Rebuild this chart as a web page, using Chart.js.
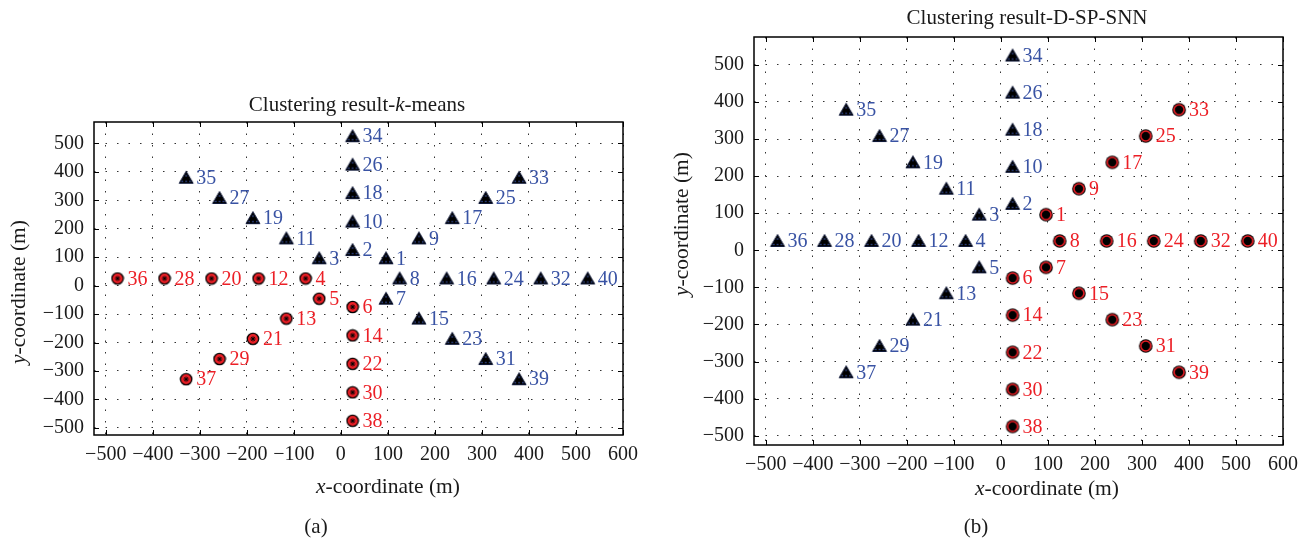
<!DOCTYPE html>
<html>
<head>
<meta charset="utf-8">
<title>Clustering results</title>
<script src="https://cdn.jsdelivr.net/npm/chart.js@4.4.1/dist/chart.umd.min.js"></script>
<style>
  html, body { margin: 0; padding: 0; background: #fff; }
  #wrap { position: relative; width: 1310px; height: 540px; }
  .panel { position: absolute; top: 0; width: 655px; height: 540px; }
  #panelA { left: 0; }
  #panelB { left: 655px; }
</style>
</head>
<body>
<div id="wrap">
  <div class="panel" id="panelA"><canvas id="chartA"></canvas></div>
  <div class="panel" id="panelB"><canvas id="chartB"></canvas></div>
</div>
<script>
// node positions (m), eight rays of five nodes around the base station
const nodeIds = [1, 2, 3, 4, 5, 6, 7, 8, 9, 10, 11, 12, 13, 14, 15, 16, 17, 18, 19, 20,
  21, 22, 23, 24, 25, 26, 27, 28, 29, 30, 31, 32, 33, 34, 35, 36, 37, 38, 39, 40];
const nodeX = [96, 25, -46, -75, -46, 25, 96, 125,
  166, 25, -116, -175, -116, 25, 166, 225,
  237, 25, -187, -275, -187, 25, 237, 325,
  308, 25, -258, -375, -258, 25, 308, 425,
  379, 25, -329, -475, -329, 25, 379, 525];
const nodeY = [96, 125, 96, 25, -46, -75, -46, 25,
  166, 225, 166, 25, -116, -175, -116, 25,
  237, 325, 237, 25, -187, -275, -187, 25,
  308, 425, 308, 25, -258, -375, -258, 25,
  379, 525, 379, 25, -329, -475, -329, 25];

// nodes assigned to the "circle" cluster by each method
const kmeansCircleNodes = [4, 5, 6, 12, 13, 14, 20, 21, 22, 28, 29, 30, 36, 37, 38];
const dspsnnCircleNodes = [1, 6, 7, 8, 9, 14, 15, 16, 17, 22, 23, 24, 25, 30, 31, 32, 33, 38, 39, 40];

const xTickValues = [-500, -400, -300, -200, -100, 0, 100, 200, 300, 400, 500, 600];
const yTickValues = [-500, -400, -300, -200, -100, 0, 100, 200, 300, 400, 500];

const FONT = "'Liberation Serif', 'DejaVu Serif', serif";
const RED = '#ec1f26';
const BLUE = '#3953a4';

function makeMarker(size, draw) {
  const c = document.createElement('canvas');
  c.width = size;
  c.height = size;
  draw(c.getContext('2d'), size / 2);
  return c;
}

// red filled circle with a black asterisk
const redStarMarker = makeMarker(14, (ctx, m) => {
  ctx.beginPath();
  ctx.arc(m, m, 5.7, 0, Math.PI * 2);
  ctx.fillStyle = RED;
  ctx.fill();
  ctx.lineWidth = 1.3;
  ctx.strokeStyle = '#000';
  ctx.stroke();
  ctx.lineWidth = 1;
  for (let i = 0; i < 4; i++) {
    const a = i * Math.PI / 4;
    ctx.beginPath();
    ctx.moveTo(m - 2.6 * Math.cos(a), m - 2.6 * Math.sin(a));
    ctx.lineTo(m + 2.6 * Math.cos(a), m + 2.6 * Math.sin(a));
    ctx.stroke();
  }
});

// black circle with a red ring
const blackRingMarker = makeMarker(16, (ctx, m) => {
  ctx.beginPath();
  ctx.arc(m, m, 6.8, 0, Math.PI * 2);
  ctx.fillStyle = '#000';
  ctx.fill();
  ctx.beginPath();
  ctx.arc(m, m, 5, 0, Math.PI * 2);
  ctx.strokeStyle = RED;
  ctx.lineWidth = 1.6;
  ctx.stroke();
});

// black triangle with blue speckles
const triangleMarker = makeMarker(18, (ctx, m) => {
  ctx.beginPath();
  ctx.moveTo(m, m - 6.5);
  ctx.lineTo(m + 7, m + 5.5);
  ctx.lineTo(m - 7, m + 5.5);
  ctx.closePath();
  ctx.fillStyle = '#000';
  ctx.fill();
  ctx.strokeStyle = '#111a3a';
  ctx.lineWidth = 1;
  ctx.stroke();
  ctx.fillStyle = BLUE;
  [[m - 3.8, m + 3.5], [m + 3.8, m + 3.5], [m, m - 2], [m, m + 3.5]].forEach(([x, y]) => {
    ctx.fillRect(x - 0.7, y - 0.7, 1.4, 1.4);
  });
});

function buildDatasets(circleNodes, circleMarker) {
  const circles = [];
  const triangles = [];
  nodeIds.forEach((id, i) => {
    const p = { x: nodeX[i], y: nodeY[i], id: id };
    (circleNodes.includes(id) ? circles : triangles).push(p);
  });
  return [
    { label: 'triangles', data: triangles, pointStyle: triangleMarker, labelColor: BLUE },
    { label: 'circles', data: circles, pointStyle: circleMarker, labelColor: RED },
  ];
}

const tickLabel = (v) => (v < 0 ? '\u2212' + Math.abs(v) : String(v));

// node number next to every marker
const nodeLabels = {
  id: 'nodeLabels',
  afterDatasetsDraw(chart) {
    const ctx = chart.ctx;
    ctx.save();
    ctx.font = `20px ${FONT}`;
    ctx.textAlign = 'left';
    ctx.textBaseline = 'middle';
    chart.data.datasets.forEach((ds, di) => {
      ctx.fillStyle = ds.labelColor;
      chart.getDatasetMeta(di).data.forEach((pt, j) => {
        ctx.fillText(String(ds.data[j].id), pt.x + 10, pt.y + 1);
      });
    });
    ctx.restore();
  },
};

// draws a run of text pieces, some of them italic
function drawRich(ctx, parts, size, x, y, rotate) {
  ctx.save();
  ctx.translate(x, y);
  if (rotate) ctx.rotate(-Math.PI / 2);
  ctx.textBaseline = 'alphabetic';
  ctx.textAlign = 'left';
  ctx.fillStyle = '#1a1a1a';
  const fonts = parts.map((p) => `${p[1] ? 'italic ' : ''}${size}px ${FONT}`);
  let total = 0;
  parts.forEach((p, i) => { ctx.font = fonts[i]; total += ctx.measureText(p[0]).width; });
  let cx = -total / 2;
  parts.forEach((p, i) => {
    ctx.font = fonts[i];
    ctx.fillText(p[0], cx, 0);
    cx += ctx.measureText(p[0]).width;
  });
  ctx.restore();
}

// box with inward ticks, titles and axis labels
const frame = {
  id: 'frame',
  beforeDatasetsDraw(chart) {
    const { ctx, chartArea: a, scales } = chart;
    const L = 5;
    ctx.save();
    ctx.strokeStyle = '#000';
    ctx.lineWidth = 1;
    ctx.beginPath();
    xTickValues.forEach((v) => {
      const px = Math.round(scales.x.getPixelForValue(v)) + 0.5;
      ctx.moveTo(px, a.bottom);
      ctx.lineTo(px, a.bottom - L);
      ctx.moveTo(px, a.top);
      ctx.lineTo(px, a.top + L);
    });
    yTickValues.forEach((v) => {
      const py = Math.round(scales.y.getPixelForValue(v)) + 0.5;
      ctx.moveTo(a.left, py);
      ctx.lineTo(a.left + L, py);
      ctx.moveTo(a.right, py);
      ctx.lineTo(a.right - L, py);
    });
    ctx.stroke();
    ctx.lineWidth = 1.5;
    ctx.strokeRect(Math.round(a.left), Math.round(a.top),
      Math.round(a.right - a.left), Math.round(a.bottom - a.top));
    ctx.restore();
  },
  afterDraw(chart, args, opts) {
    const ctx = chart.ctx;
    drawRich(ctx, opts.title, 21, opts.titleAt[0], opts.titleAt[1], false);
    drawRich(ctx, [['x', true], ['-coordinate (m)', false]], 21.5, opts.xLabelAt[0], opts.xLabelAt[1], false);
    drawRich(ctx, [['y', true], ['-coordinate (m)', false]], 21.5, opts.yLabelAt[0], opts.yLabelAt[1], true);
    drawRich(ctx, [[opts.panel, false]], 21, opts.panelAt[0], opts.panelAt[1], false);
  },
};

function makeChart(canvasId, datasets, padding, yAxisWidth, frameOpts) {
  return new Chart(document.getElementById(canvasId), {
    type: 'scatter',
    data: { datasets: datasets },
    plugins: [frame, nodeLabels],
    options: {
      responsive: true,
      maintainAspectRatio: false,
      animation: false,
      devicePixelRatio: 1,
      layout: { padding: padding },
      elements: { point: { radius: 6 } },
      scales: {
        x: {
          type: 'linear',
          min: -525,
          max: 600,
          afterBuildTicks: (s) => { s.ticks = xTickValues.map((v) => ({ value: v })); },
          afterFit: (s) => { s.height = 40; },
          grid: { color: '#333', lineWidth: 1, drawTicks: false },
          border: { display: false, dash: [1.5, 10] },
          ticks: {
            callback: tickLabel,
            font: { family: FONT, size: 20 },
            color: '#1a1a1a',
            padding: 8,
            maxRotation: 0,
            autoSkip: false,
          },
        },
        y: {
          type: 'linear',
          min: -525,
          max: 575,
          afterBuildTicks: (s) => { s.ticks = yTickValues.map((v) => ({ value: v })); },
          afterFit: (s) => { s.width = yAxisWidth; },
          grid: { color: '#333', lineWidth: 1, drawTicks: false },
          border: { display: false, dash: [1.5, 10] },
          ticks: {
            callback: tickLabel,
            font: { family: FONT, size: 20 },
            color: '#1a1a1a',
            padding: 10,
            autoSkip: false,
          },
        },
      },
      plugins: {
        legend: { display: false },
        tooltip: { enabled: false },
        frame: frameOpts,
      },
    },
  });
}

makeChart('chartA', buildDatasets(kmeansCircleNodes, redStarMarker),
  { left: 0, right: 32, top: 122, bottom: 65 }, 94, {
    title: [['Clustering result-', false], ['k', true], ['-means', false]],
    titleAt: [357, 111],
    xLabelAt: [388, 493],
    yLabelAt: [25, 292],
    panel: '(a)',
    panelAt: [316, 533],
  });

makeChart('chartB', buildDatasets(dspsnnCircleNodes, blackRingMarker),
  { left: 0, right: 27, top: 37, bottom: 55 }, 99, {
    title: [['Clustering result-D-SP-SNN', false]],
    titleAt: [372, 24],
    xLabelAt: [392, 495],
    yLabelAt: [33, 224],
    panel: '(b)',
    panelAt: [321, 533],
  });
</script>
</body>
</html>
